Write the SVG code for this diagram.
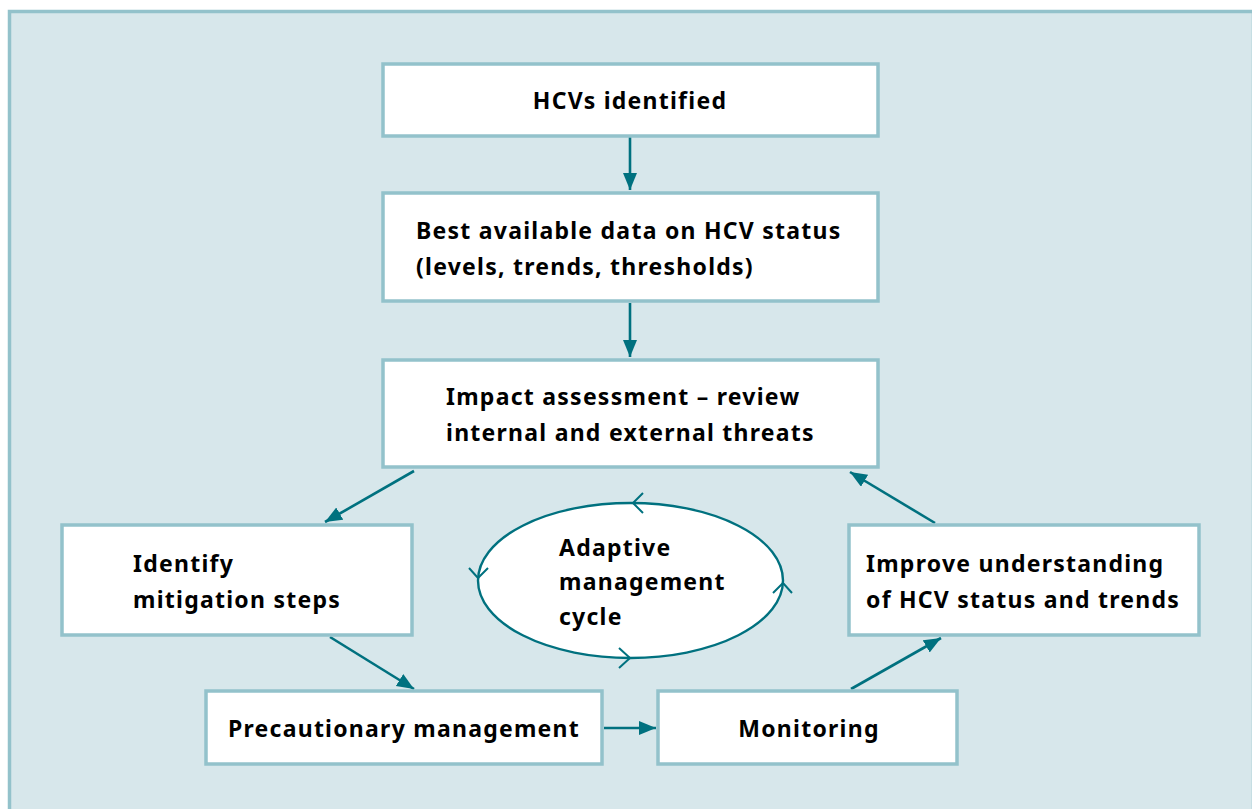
<svg xmlns="http://www.w3.org/2000/svg" width="1252" height="809" viewBox="0 0 1252 809">
<style>
.box{fill:#ffffff;stroke:#93c2cb;stroke-width:3.5}
.t{font-family:"Noto Sans","Open Sans","DejaVu Sans",sans-serif;font-weight:bold;font-size:23px;fill:#000;letter-spacing:1.25px}
.c{stroke:#00717f;stroke-width:2.6;fill:none}
.chev{stroke:#00717f;stroke-width:2;fill:none}
</style>
<defs>
<marker id="ah" markerUnits="userSpaceOnUse" markerWidth="20" markerHeight="16" refX="17" refY="7" orient="auto">
<path d="M0,0 L17,7 L0,14 Z" fill="#00717f"/>
</marker>
</defs>
<rect x="0" y="0" width="1252" height="809" fill="#ffffff"/>
<rect id="panel" x="9.5" y="11.5" width="1244" height="810" fill="#d7e7eb" stroke="#93c2cb" stroke-width="3.5"/>
<g id="connectors">
<line class="c" x1="630" y1="137" x2="630" y2="190" marker-end="url(#ah)"/>
<line class="c" x1="630" y1="303" x2="630" y2="357" marker-end="url(#ah)"/>
<line class="c" x1="414" y1="471" x2="325" y2="522" marker-end="url(#ah)"/>
<line class="c" x1="330" y1="637" x2="414" y2="689" marker-end="url(#ah)"/>
<line class="c" x1="604" y1="728" x2="656" y2="728" marker-end="url(#ah)"/>
<line class="c" x1="851" y1="689" x2="941" y2="638" marker-end="url(#ah)"/>
<line class="c" x1="935" y1="523" x2="850" y2="472" marker-end="url(#ah)"/>
</g>
<g id="n1"><rect class="box" x="383" y="64" width="495" height="72"/><text class="t" x="630" y="109" text-anchor="middle">HCVs identified</text></g>
<g id="n2"><rect class="box" x="383" y="193" width="495" height="108"/><text class="t" x="416" y="239">Best available data on HCV status</text><text class="t" x="416" y="275">(levels, trends, thresholds)</text></g>
<g id="n3"><rect class="box" x="383" y="360" width="495" height="107"/><text class="t" x="446" y="405">Impact assessment – review</text><text class="t" x="446" y="441">internal and external threats</text></g>
<g id="n4"><rect class="box" x="62" y="525" width="350" height="110"/><text class="t" x="133" y="572">Identify</text><text class="t" x="133" y="608">mitigation steps</text></g>
<g id="n5"><rect class="box" x="849" y="525" width="350" height="110"/><text class="t" x="866" y="572">Improve understanding</text><text class="t" x="866" y="608">of HCV status and trends</text></g>
<g id="n6"><rect class="box" x="206" y="691" width="396" height="73"/><text class="t" x="404" y="737" text-anchor="middle">Precautionary management</text></g>
<g id="n7"><rect class="box" x="658" y="691" width="299" height="73"/><text class="t" x="809" y="737" text-anchor="middle">Monitoring</text></g>
<g id="cycle">
<ellipse cx="630.5" cy="580.5" rx="152.5" ry="77.5" fill="#ffffff" stroke="#00717f" stroke-width="2.4"/>
<path class="chev" d="M643,493 L633,503 L643,513"/>
<path class="chev" d="M469,568 L478,578 L488,568"/>
<path class="chev" d="M619,648 L630,658 L619,668"/>
<path class="chev" d="M773,593 L783,583 L792,593"/>
<text class="t" x="559" y="556">Adaptive</text>
<text class="t" x="559" y="590">management</text>
<text class="t" x="559" y="625">cycle</text>
</g>
</svg>
